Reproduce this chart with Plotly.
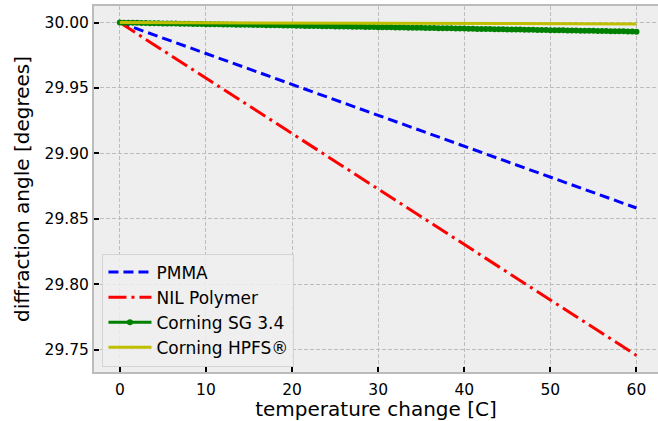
import numpy as np
import plotly.graph_objects as go

# Temperature sweep in degrees C
temp_grid = np.arange(0, 60.5, 0.5)
temp_ends = [0, 60]

# Diffraction angle [deg] at the ends of the sweep
pmma = [30.0, 29.8582]
nil_polymer = [30.0, 29.7455]
hpfs = [30.0, 29.9990]

# Corning SG 3.4, sampled every 0.5 C
corning_sg = [
    30.0000, 29.9999, 29.9999, 29.9998, 29.9998, 29.9997, 29.9997, 29.9996, 29.9995, 29.9995,
    29.9994, 29.9994, 29.9993, 29.9993, 29.9992, 29.9991, 29.9991, 29.9990, 29.9990, 29.9989,
    29.9988, 29.9988, 29.9987, 29.9987, 29.9986, 29.9986, 29.9985, 29.9984, 29.9984, 29.9983,
    29.9983, 29.9982, 29.9982, 29.9981, 29.9980, 29.9980, 29.9979, 29.9979, 29.9978, 29.9978,
    29.9977, 29.9976, 29.9976, 29.9975, 29.9975, 29.9974, 29.9974, 29.9973, 29.9972, 29.9972,
    29.9971, 29.9971, 29.9970, 29.9970, 29.9969, 29.9968, 29.9968, 29.9967, 29.9967, 29.9966,
    29.9965, 29.9965, 29.9964, 29.9964, 29.9963, 29.9963, 29.9962, 29.9961, 29.9961, 29.9960,
    29.9960, 29.9959, 29.9959, 29.9958, 29.9957, 29.9957, 29.9956, 29.9956, 29.9955, 29.9955,
    29.9954, 29.9953, 29.9953, 29.9952, 29.9952, 29.9951, 29.9951, 29.9950, 29.9949, 29.9949,
    29.9948, 29.9948, 29.9947, 29.9947, 29.9946, 29.9945, 29.9945, 29.9944, 29.9944, 29.9943,
    29.9942, 29.9942, 29.9941, 29.9941, 29.9940, 29.9940, 29.9939, 29.9938, 29.9938, 29.9937,
    29.9937, 29.9936, 29.9936, 29.9935, 29.9934, 29.9934, 29.9933, 29.9933, 29.9932, 29.9932,
    29.9931,
]

x_ticks = [0, 10, 20, 30, 40, 50, 60]
y_ticks = [29.75, 29.80, 29.85, 29.90, 29.95, 30.00]
y_tick_labels = ["29.75", "29.80", "29.85", "29.90", "29.95", "30.00"]

FONT = "DejaVu Sans"

fig = go.Figure()
fig.add_trace(go.Scatter(
    x=temp_ends, y=pmma, mode="lines", name="PMMA",
    line=dict(color="#0000ff", width=3, dash="10px,5px"),
))
fig.add_trace(go.Scatter(
    x=temp_ends, y=nil_polymer, mode="lines", name="NIL Polymer",
    line=dict(color="#ff0000", width=3, dash="18px,5px,3px,5px"),
))
fig.add_trace(go.Scatter(
    x=temp_grid, y=corning_sg, mode="lines+markers", name="Corning SG 3.4",
    line=dict(color="#008000", width=3),
    marker=dict(color="#008000", size=6, symbol="circle"),
))
fig.add_trace(go.Scatter(
    x=temp_ends, y=hpfs, mode="lines", name="Corning HPFS®",
    line=dict(color="#bfbf00", width=3),
))

fig.update_layout(
    width=658, height=421,
    margin=dict(l=94, r=0, t=6, b=49),
    paper_bgcolor="white",
    plot_bgcolor="#eeeeee",
    font=dict(family=FONT, size=15.5, color="black"),
    showlegend=True,
    legend=dict(
        x=0.015, y=0.015, xanchor="left", yanchor="bottom",
        bgcolor="rgba(238,238,238,0.85)",
        bordercolor="#d4d4d4", borderwidth=1,
        font=dict(family=FONT, size=17, color="black"),
        tracegroupgap=0, itemwidth=43,
    ),
)

fig.update_xaxes(
    range=[-3, 62.5],
    tickmode="array", tickvals=x_ticks,
    ticks="inside", ticklen=5, tickwidth=1.5, tickcolor="black",
    ticklabelstandoff=2,
    showgrid=True, gridcolor="#bdbdbd", gridwidth=0.8, griddash="4px,2px",
    zeroline=False,
    showline=True, linecolor="#bcbcbc", linewidth=2, mirror=True,
    title=dict(text="temperature change [C]", font=dict(family=FONT, size=20), standoff=0),
    tickfont=dict(family=FONT, size=15.5),
)
fig.update_yaxes(
    range=[29.7328, 30.0127],
    tickmode="array", tickvals=y_ticks, ticktext=y_tick_labels,
    ticks="inside", ticklen=5, tickwidth=1.5, tickcolor="black",
    ticklabelstandoff=0,
    showgrid=True, gridcolor="#bdbdbd", gridwidth=0.8, griddash="4px,2px",
    zeroline=False,
    showline=True, linecolor="#bcbcbc", linewidth=2, mirror=False,
    title=dict(text="diffraction angle [degrees]", font=dict(family=FONT, size=20), standoff=10),
    tickfont=dict(family=FONT, size=15.5),
)

fig.write_html("out.html")
